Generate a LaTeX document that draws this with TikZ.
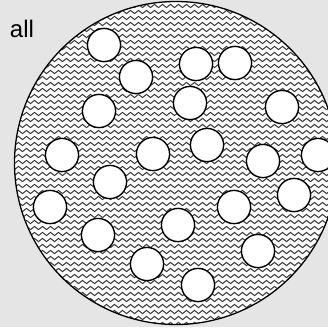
\documentclass[tikz,border=0pt]{standalone}
\usepackage{fontspec}
\setmainfont{Liberation Sans}
\usetikzlibrary{decorations.pathmorphing}

\begin{document}
\begin{tikzpicture}[x=1pt,y=-1pt]
                \useasboundingbox[fill=black!10] (0,0) rectangle (328,327);
                \node (all) at (22,29) {\fontsize{24}{28}\selectfont all};
                \fill[white] (176,163) circle (161.5);
                \begin{scope}
                    \clip (176,163) circle (161.5);
                    \foreach \y in {0,6,...,330}
                        \draw[line width=1pt, black!80, decorate, decoration={snake,segment length=8pt,amplitude=1.6pt}] (8,\y) -- (344,\y);
                \end{scope}
                \draw[line width=1.3pt] (176,163) circle (161.5);
                \foreach \x/\y in {104/45,136/77,196/64,235/63,99/111,190/103,282/107,
                                   62/155,153/154,207/145,263/161,318/155,110/182,50/207,
                                   294/195,234/207,178/225,98/235,258/251,147/264,198/285}
                    \draw[fill=white, line width=1.4pt] (\x,\y) circle (16.6);
            \end{tikzpicture}
\end{document}
